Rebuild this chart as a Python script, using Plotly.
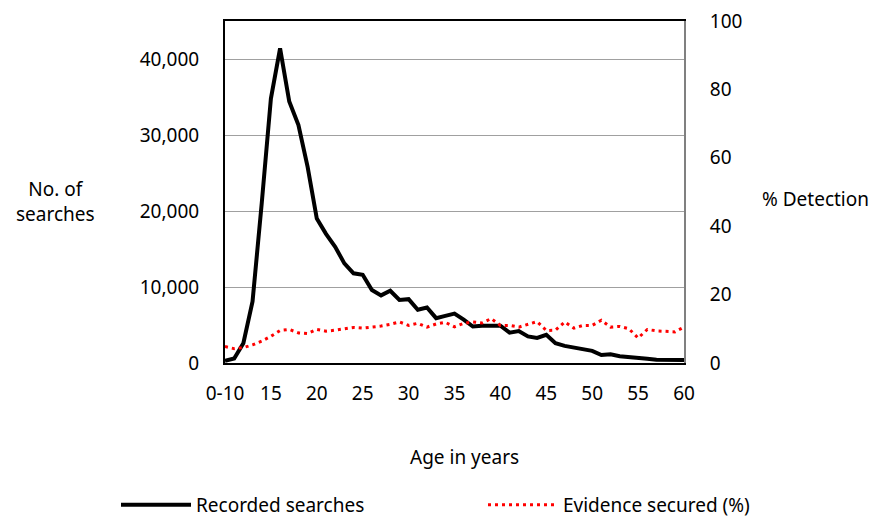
import plotly.graph_objects as go

ages = list(range(10, 61))
tick_vals = [10, 15, 20, 25, 30, 35, 40, 45, 50, 55, 60]
tick_text = ["0-10", "15", "20", "25", "30", "35", "40", "45", "50", "55", "60"]

searches = [300, 600, 2600, 8100, 21000, 34800, 41400, 34400, 31300, 25800,
            19000, 17000, 15300, 13100, 11800, 11600, 9600, 8900, 9500, 8300,
            8400, 7000, 7300, 5900, 6200, 6500, 5700, 4800, 4900, 4900,
            4900, 4000, 4200, 3500, 3300, 3700, 2600, 2250, 2000, 1800,
            1600, 1050, 1150, 900, 830, 750, 570, 430, 400, 400, 400]

evidence = [4.8, 4.2, 4.5, 5.3, 6.4, 7.8, 9.5, 9.8, 8.8, 8.6,
            9.8, 9.3, 9.6, 9.9, 10.4, 10.2, 10.4, 10.8, 11.3, 12.0,
            11.0, 11.6, 10.5, 11.4, 11.9, 10.6, 11.6, 12.0, 11.7, 13.0,
            11.0, 11.0, 10.5, 11.2, 12.1, 9.5, 9.6, 12.0, 10.2, 11.0,
            11.0, 12.5, 10.5, 10.7, 10.0, 7.3, 9.8, 9.4, 9.2, 9.1, 10.5]

FONT = "Noto Sans"
W, H = 877, 518
L, R, T, B = 225, 193, 21, 155
PW, PH = W - L - R, H - T - B


def px(xp):
    return (xp - L) / PW


def py(yp):
    return (H - B - yp) / PH


fig = go.Figure()
fig.add_trace(go.Scatter(x=ages, y=searches, mode="lines", name="Recorded searches",
                         line=dict(color="black", width=4), yaxis="y", legend="legend"))
fig.add_trace(go.Scatter(x=ages, y=evidence, mode="lines", name="Evidence secured (%)",
                         line=dict(color="#ff0000", width=3, dash="3px,4px"), yaxis="y2",
                         legend="legend2"))

leg_common = dict(orientation="h", yanchor="middle", y=py(505), xanchor="left",
                  font=dict(size=19), bgcolor="rgba(0,0,0,0)", itemwidth=70)

fig.update_layout(
    width=W, height=H,
    margin=dict(l=L, r=R, t=T, b=B, autoexpand=False),
    paper_bgcolor="white", plot_bgcolor="white",
    font=dict(family=FONT, size=20, color="black"),
    showlegend=True,
    legend=dict(x=px(116), **leg_common),
    legend2=dict(x=px(483), **leg_common),
    xaxis=dict(range=[10, 60], tickmode="array", tickvals=tick_vals, ticktext=tick_text,
               showgrid=False, zeroline=False, showline=True, mirror=True,
               linecolor="black", linewidth=2, ticks="", ticklabelstandoff=12,
               tickfont=dict(size=19)),
    yaxis=dict(range=[0, 45000], tickvals=[0, 10000, 20000, 30000, 40000],
               tickformat=",d", showgrid=True, gridcolor="#a0a0a0", gridwidth=1,
               zeroline=False, showline=True, linecolor="black", linewidth=2,
               ticks="", ticklabelstandoff=20, tickfont=dict(size=19)),
    yaxis2=dict(range=[0, 100], tickvals=[0, 20, 40, 60, 80, 100], overlaying="y",
                side="right", showgrid=False, zeroline=False, showline=True,
                linecolor="#808080", linewidth=2, ticks="", ticklabelstandoff=20,
                tickfont=dict(size=19)),
    annotations=[
        dict(text="No. of<br>searches", xref="paper", yref="paper", x=px(55),
             y=py(201), xanchor="center", yanchor="middle", showarrow=False,
             font=dict(size=19)),
        dict(text="% Detection", xref="paper", yref="paper", x=px(815),
             y=py(199), xanchor="center", yanchor="middle", showarrow=False,
             font=dict(size=19)),
        dict(text="Age in years", xref="paper", yref="paper", x=px(464),
             y=py(457), xanchor="center", yanchor="middle", showarrow=False,
             font=dict(size=19)),
    ],
)

fig.write_html("out.html")
